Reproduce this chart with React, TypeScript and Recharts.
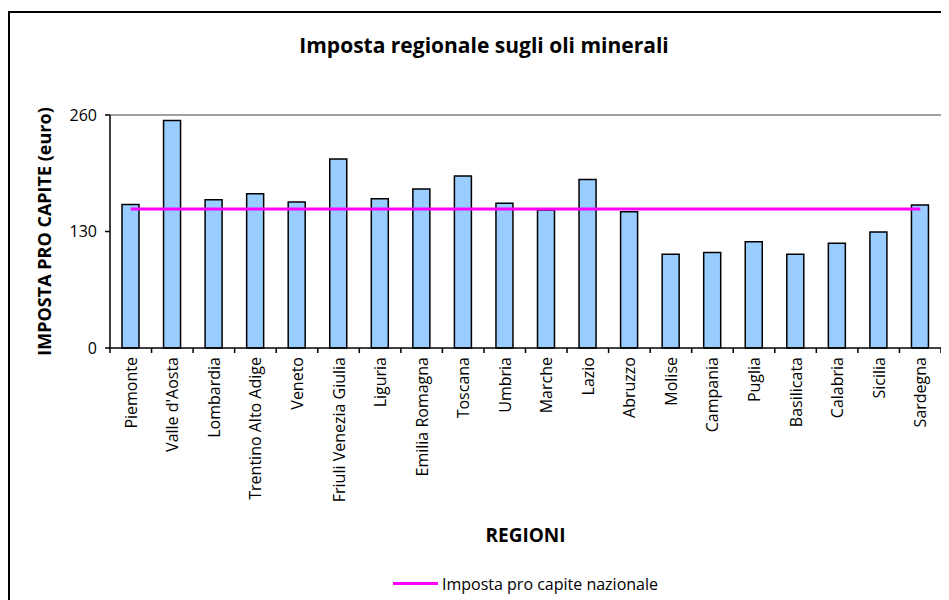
import {
  Bar,
  ComposedChart,
  Legend,
  Line,
  ReferenceLine,
  XAxis,
  YAxis,
} from "recharts";

const regions = [
  "Piemonte",
  "Valle d'Aosta",
  "Lombardia",
  "Trentino Alto Adige",
  "Veneto",
  "Friuli Venezia Giulia",
  "Liguria",
  "Emilia Romagna",
  "Toscana",
  "Umbria",
  "Marche",
  "Lazio",
  "Abruzzo",
  "Molise",
  "Campania",
  "Puglia",
  "Basilicata",
  "Calabria",
  "Sicilia",
  "Sardegna",
];

const regionalTax = [
  160, 254, 165.5, 172, 163, 211, 166.5, 177.5, 192, 161.5, 154, 188, 152,
  104.5, 106.5, 118.5, 104.5, 117, 129.5, 159.5,
];

const nationalTax = [
  155, 155, 155, 155, 155, 155, 155, 155, 155, 155, 155, 155, 155, 155, 155,
  155, 155, 155, 155, 155,
];

const yTicks = [0, 130, 260];

const data = regions.map((name, i) => ({
  name,
  regionale: regionalTax[i],
  nazionale: nationalTax[i],
}));

const FONT = "'Open Sans', sans-serif";

function RegionTick(props: any) {
  const { x, y, payload, index } = props;
  const half = payload && payload.offset ? payload.offset : 831 / 40;
  const last = index === regions.length - 1;
  return (
    <g>
      <line x1={x - half} x2={x - half} y1={y - 8} y2={y - 3} stroke="#000" strokeWidth={1.5} />
      {last && (
        <line x1={x + half} x2={x + half} y1={y - 8} y2={y - 3} stroke="#000" strokeWidth={1.5} />
      )}
      <text
        transform={`translate(${x + 6},${y + 1}) rotate(-90)`}
        textAnchor="end"
        fontSize={16}
        fontFamily={FONT}
        fill="#000"
      >
        {payload.value}
      </text>
    </g>
  );
}

function LegendContent() {
  return (
    <div
      style={{
        textAlign: "center",
        fontFamily: FONT,
        fontSize: 16,
        lineHeight: "18px",
        paddingTop: 13,
      }}
    >
      <span
        style={{
          display: "inline-block",
          width: 45,
          height: 3,
          background: "#FF00FF",
          verticalAlign: "middle",
          marginRight: 4,
        }}
      />
      <span style={{ verticalAlign: "middle" }}>Imposta pro capite nazionale</span>
    </div>
  );
}

export default function App() {
  return (
    <div
      style={{
        position: "relative",
        marginTop: 3,
        width: 939,
        height: 587,
        borderTop: "2px solid #000",
        borderLeft: "2px solid #000",
        overflow: "hidden",
        background: "#fff",
      }}
    >
      <div
        style={{
          position: "absolute",
          top: 21,
          left: 0,
          width: 948,
          textAlign: "center",
          fontFamily: FONT,
          fontWeight: 700,
          fontSize: 21,
          lineHeight: "22px",
        }}
      >
        Imposta regionale sugli oli minerali
      </div>
      <ComposedChart
        width={939}
        height={587}
        data={data}
        margin={{ top: 102, right: 8, left: 0, bottom: 0 }}
      >
        <XAxis
          dataKey="name"
          interval={0}
          height={212}
          axisLine={{ stroke: "#000", strokeWidth: 1.5 }}
          tickLine={false}
          tick={<RegionTick />}
          label={{
            value: "REGIONI",
            position: "insideBottom",
            offset: 18,
            fontFamily: FONT,
            fontWeight: 700,
            fontSize: 19,
            fill: "#000",
          }}
        />
        <YAxis
          yAxisId="left"
          width={100}
          domain={[0, 260]}
          ticks={yTicks}
          tickSize={5}
          tickMargin={8}
          axisLine={{ stroke: "#000", strokeWidth: 1.5 }}
          tickLine={{ stroke: "#000", strokeWidth: 1.5 }}
          tick={{ fill: "#000", fontSize: 16, fontFamily: FONT }}
          label={{
            value: "IMPOSTA PRO CAPITE (euro)",
            angle: -90,
            position: "center",
            dx: -15,
            fontFamily: FONT,
            fontWeight: 700,
            fontSize: 18,
            fill: "#000",
          }}
        />
        <YAxis
          yAxisId="right"
          orientation="right"
          width={0}
          domain={[0, 260]}
          tick={false}
          tickLine={false}
          axisLine={{ stroke: "#808080", strokeWidth: 1.5 }}
        />
        <ReferenceLine yAxisId="left" y={260} stroke="#808080" strokeWidth={1.5} />
        <Bar
          yAxisId="left"
          dataKey="regionale"
          fill="#99CCFF"
          stroke="#000"
          strokeWidth={1.5}
          barSize={17}
          legendType="none"
          isAnimationActive={false}
        />
        <Line
          yAxisId="left"
          dataKey="nazionale"
          name="Imposta pro capite nazionale"
          stroke="#FF00FF"
          strokeWidth={3}
          dot={false}
          activeDot={false}
          isAnimationActive={false}
        />
        <Legend
          verticalAlign="bottom"
          height={40}
          wrapperStyle={{ left: 100, width: 831 }}
          content={<LegendContent />}
        />
      </ComposedChart>
    </div>
  );
}
